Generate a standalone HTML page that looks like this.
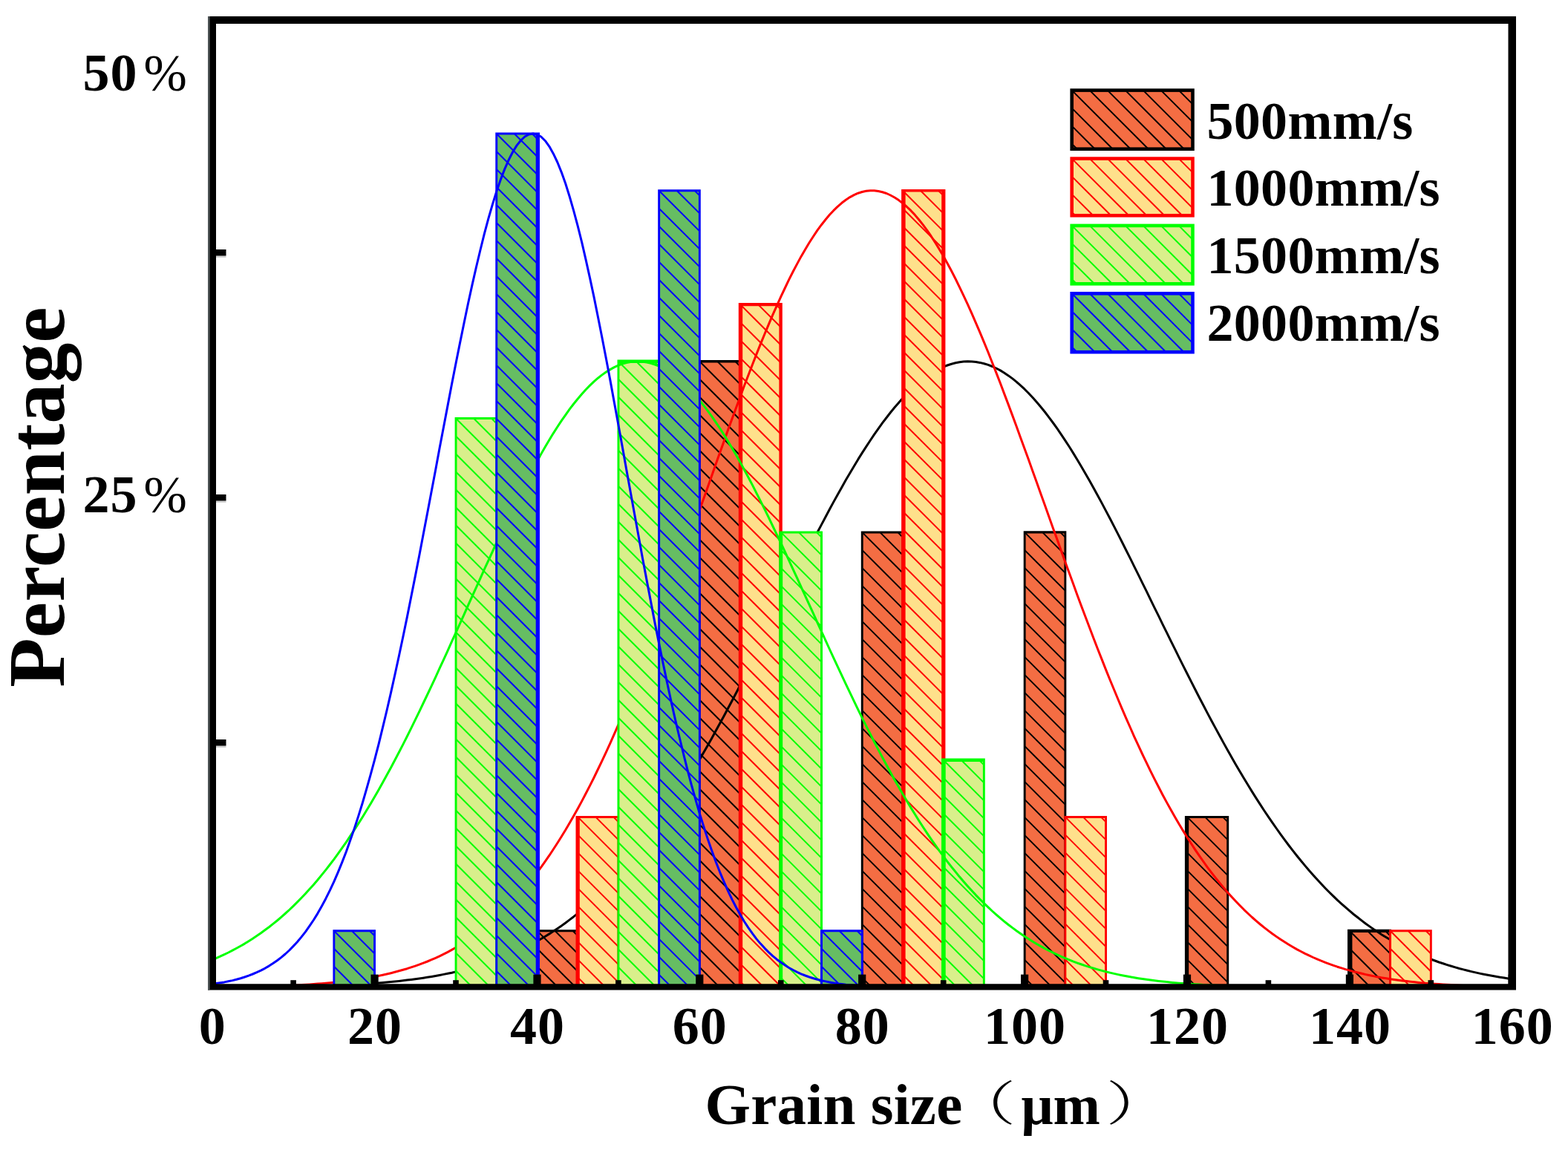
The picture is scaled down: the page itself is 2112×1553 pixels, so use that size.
<!DOCTYPE html>
<html lang="en">
<head>
<meta charset="utf-8">
<title>Grain size distribution</title>
<style>
html,body{margin:0;padding:0;background:#fff;}
body{width:2112px;height:1553px;overflow:hidden;}
svg{display:block;}
text{font-family:"Liberation Serif","Noto Serif CJK SC",serif;font-weight:bold;fill:#000;}
.tick{font-size:72px;text-anchor:middle;letter-spacing:1px;}
.leg{font-size:72px;letter-spacing:0.3px;}
.pct{font-weight:normal;}
.cjk{font-family:"Liberation Serif","Noto Serif CJK SC",serif;font-weight:300;}
</style>
</head>
<body>
<svg width="2112" height="1553" viewBox="0 0 2112 1553">
<rect x="0" y="0" width="2112" height="1553" fill="#fff"/>
<clipPath id="plot"><rect x="286" y="27" width="1750.5" height="1302"/></clipPath>
<g clip-path="url(#plot)">
<g fill="#F46D43" stroke="#000000">
<rect x="723.5" y="1253.8" width="54.7" height="76.7" stroke="none"/>
<path d="M723.5 1325.8l4.7 4.7M723.5 1301.8l28.7 28.7M723.5 1277.8l52.7 52.7M723.5 1253.8l54.7 54.7M747.5 1253.8l30.7 30.7M771.5 1253.8l6.7 6.7" fill="none" stroke-width="2.0"/>
<path d="M722 1252.3H779.6V1330.5H776.7V1255.2H724.9V1330.5H722Z" fill="#000000" stroke="none"/>
<rect x="942.3" y="486.8" width="54.7" height="843.7" stroke="none"/>
<path d="M942.3 1326.8l3.7 3.7M942.3 1302.8l27.7 27.7M942.3 1278.8l51.7 51.7M942.3 1254.8l54.7 54.7M942.3 1230.8l54.7 54.7M942.3 1206.8l54.7 54.7M942.3 1182.8l54.7 54.7M942.3 1158.8l54.7 54.7M942.3 1134.8l54.7 54.7M942.3 1110.8l54.7 54.7M942.3 1086.8l54.7 54.7M942.3 1062.8l54.7 54.7M942.3 1038.8l54.7 54.7M942.3 1014.8l54.7 54.7M942.3 990.8l54.7 54.7M942.3 966.8l54.7 54.7M942.3 942.8l54.7 54.7M942.3 918.8l54.7 54.7M942.3 894.8l54.7 54.7M942.3 870.8l54.7 54.7M942.3 846.8l54.7 54.7M942.3 822.8l54.7 54.7M942.3 798.8l54.7 54.7M942.3 774.8l54.7 54.7M942.3 750.8l54.7 54.7M942.3 726.8l54.7 54.7M942.3 702.8l54.7 54.7M942.3 678.8l54.7 54.7M942.3 654.8l54.7 54.7M942.3 630.8l54.7 54.7M942.3 606.8l54.7 54.7M942.3 582.8l54.7 54.7M942.3 558.8l54.7 54.7M942.3 534.8l54.7 54.7M942.3 510.8l54.7 54.7M942.3 486.8l54.7 54.7M966.3 486.8l30.7 30.7M990.3 486.8l6.7 6.7" fill="none" stroke-width="2.0"/>
<path d="M940.9 485.1H998.5V1330.5H995.6V488.5H943.8V1330.5H940.9Z" fill="#000000" stroke="none"/>
<rect x="1161.2" y="716.9" width="54.7" height="613.6" stroke="none"/>
<path d="M1161.2 1316.9l13.6 13.6M1161.2 1292.9l37.6 37.6M1161.2 1268.9l54.7 54.7M1161.2 1244.9l54.7 54.7M1161.2 1220.9l54.7 54.7M1161.2 1196.9l54.7 54.7M1161.2 1172.9l54.7 54.7M1161.2 1148.9l54.7 54.7M1161.2 1124.9l54.7 54.7M1161.2 1100.9l54.7 54.7M1161.2 1076.9l54.7 54.7M1161.2 1052.9l54.7 54.7M1161.2 1028.9l54.7 54.7M1161.2 1004.9l54.7 54.7M1161.2 980.9l54.7 54.7M1161.2 956.9l54.7 54.7M1161.2 932.9l54.7 54.7M1161.2 908.9l54.7 54.7M1161.2 884.9l54.7 54.7M1161.2 860.9l54.7 54.7M1161.2 836.9l54.7 54.7M1161.2 812.9l54.7 54.7M1161.2 788.9l54.7 54.7M1161.2 764.9l54.7 54.7M1161.2 740.9l54.7 54.7M1161.2 716.9l54.7 54.7M1185.2 716.9l30.7 30.7M1209.2 716.9l6.7 6.7" fill="none" stroke-width="2.0"/>
<path d="M1159.8 715.4H1217.4V1330.5H1214.5V718.4H1162.7V1330.5H1159.8Z" fill="#000000" stroke="none"/>
<rect x="1380.1" y="716.9" width="54.7" height="613.6" stroke="none"/>
<path d="M1380.1 1316.9l13.6 13.6M1380.1 1292.9l37.6 37.6M1380.1 1268.9l54.7 54.7M1380.1 1244.9l54.7 54.7M1380.1 1220.9l54.7 54.7M1380.1 1196.9l54.7 54.7M1380.1 1172.9l54.7 54.7M1380.1 1148.9l54.7 54.7M1380.1 1124.9l54.7 54.7M1380.1 1100.9l54.7 54.7M1380.1 1076.9l54.7 54.7M1380.1 1052.9l54.7 54.7M1380.1 1028.9l54.7 54.7M1380.1 1004.9l54.7 54.7M1380.1 980.9l54.7 54.7M1380.1 956.9l54.7 54.7M1380.1 932.9l54.7 54.7M1380.1 908.9l54.7 54.7M1380.1 884.9l54.7 54.7M1380.1 860.9l54.7 54.7M1380.1 836.9l54.7 54.7M1380.1 812.9l54.7 54.7M1380.1 788.9l54.7 54.7M1380.1 764.9l54.7 54.7M1380.1 740.9l54.7 54.7M1380.1 716.9l54.7 54.7M1404.1 716.9l30.7 30.7M1428.1 716.9l6.7 6.7" fill="none" stroke-width="2.0"/>
<path d="M1378.7 715.2H1436.3V1330.5H1433.4V718.6H1381.6V1330.5H1378.7Z" fill="#000000" stroke="none"/>
<rect x="1599" y="1100.4" width="54.7" height="230.1" stroke="none"/>
<path d="M1599.0 1316.4l14.1 14.1M1599.0 1292.4l38.1 38.1M1599.0 1268.4l54.7 54.7M1599.0 1244.4l54.7 54.7M1599.0 1220.4l54.7 54.7M1599.0 1196.4l54.7 54.7M1599.0 1172.4l54.7 54.7M1599.0 1148.4l54.7 54.7M1599.0 1124.4l54.7 54.7M1599.0 1100.4l54.7 54.7M1623.0 1100.4l30.7 30.7M1647.0 1100.4l6.7 6.7" fill="none" stroke-width="2.0"/>
<path d="M1595.9 1099H1655.2V1330.5H1652.2V1101.9H1601.2V1330.5H1595.9Z" fill="#000000" stroke="none"/>
<rect x="1817.9" y="1253.8" width="54.7" height="76.7" stroke="none"/>
<path d="M1817.9 1325.8l4.7 4.7M1817.9 1301.8l28.7 28.7M1817.9 1277.8l52.7 52.7M1817.9 1253.8l54.7 54.7M1841.9 1253.8l30.7 30.7M1865.9 1253.8l6.7 6.7" fill="none" stroke-width="2.0"/>
<path d="M1815 1251.7H1874V1330.5H1871.1V1255.9H1821.4V1330.5H1815Z" fill="#000000" stroke="none"/>
<path d="M263.8 1330.3L269.3 1330.3L274.8 1330.3L280.2 1330.2L285.7 1330.2L291.2 1330.2L296.6 1330.2L302.1 1330.1L307.6 1330.1L313.1 1330.1L318.5 1330.0L324.0 1330.0L329.5 1329.9L334.9 1329.9L340.4 1329.8L345.9 1329.8L351.4 1329.7L356.8 1329.7L362.3 1329.6L367.8 1329.5L373.3 1329.4L378.7 1329.3L384.2 1329.2L389.7 1329.1L395.1 1329.0L400.6 1328.9L406.1 1328.8L411.6 1328.7L417.0 1328.5L422.5 1328.4L428.0 1328.2L433.4 1328.0L438.9 1327.8L444.4 1327.6L449.9 1327.4L455.3 1327.2L460.8 1327.0L466.3 1326.7L471.7 1326.4L477.2 1326.1L482.7 1325.8L488.2 1325.5L493.6 1325.1L499.1 1324.8L504.6 1324.4L510.1 1323.9L515.5 1323.5L521.0 1323.0L526.5 1322.5L531.9 1321.9L537.4 1321.4L542.9 1320.8L548.4 1320.1L553.8 1319.4L559.3 1318.7L564.8 1318.0L570.2 1317.2L575.7 1316.3L581.2 1315.4L586.7 1314.5L592.1 1313.5L597.6 1312.4L603.1 1311.3L608.5 1310.2L614.0 1308.9L619.5 1307.7L625.0 1306.3L630.4 1304.9L635.9 1303.4L641.4 1301.8L646.9 1300.2L652.3 1298.5L657.8 1296.7L663.3 1294.8L668.7 1292.8L674.2 1290.8L679.7 1288.6L685.2 1286.4L690.6 1284.0L696.1 1281.6L701.6 1279.0L707.0 1276.3L712.5 1273.5L718.0 1270.7L723.5 1267.6L728.9 1264.5L734.4 1261.2L739.9 1257.9L745.3 1254.3L750.8 1250.7L756.3 1246.9L761.8 1243.0L767.2 1238.9L772.7 1234.7L778.2 1230.3L783.7 1225.8L789.1 1221.1L794.6 1216.3L800.1 1211.3L805.5 1206.2L811.0 1200.9L816.5 1195.4L822.0 1189.8L827.4 1184.0L832.9 1178.0L838.4 1171.9L843.8 1165.6L849.3 1159.1L854.8 1152.5L860.3 1145.6L865.7 1138.6L871.2 1131.5L876.7 1124.1L882.1 1116.6L887.6 1108.9L893.1 1101.0L898.6 1093.0L904.0 1084.8L909.5 1076.4L915.0 1067.9L920.5 1059.2L925.9 1050.4L931.4 1041.4L936.9 1032.2L942.3 1022.9L947.8 1013.5L953.3 1003.9L958.8 994.2L964.2 984.3L969.7 974.3L975.2 964.2L980.6 954.0L986.1 943.7L991.6 933.3L997.1 922.8L1002.5 912.2L1008.0 901.5L1013.5 890.8L1018.9 880.0L1024.4 869.1L1029.9 858.2L1035.4 847.3L1040.8 836.3L1046.3 825.4L1051.8 814.4L1057.3 803.4L1062.7 792.4L1068.2 781.5L1073.7 770.6L1079.1 759.7L1084.6 748.9L1090.1 738.2L1095.6 727.6L1101.0 717.0L1106.5 706.6L1112.0 696.2L1117.4 686.0L1122.9 675.9L1128.4 666.0L1133.9 656.2L1139.3 646.6L1144.8 637.2L1150.3 628.0L1155.7 618.9L1161.2 610.1L1166.7 601.6L1172.2 593.2L1177.6 585.1L1183.1 577.3L1188.6 569.7L1194.1 562.5L1199.5 555.5L1205.0 548.8L1210.5 542.4L1215.9 536.3L1221.4 530.5L1226.9 525.1L1232.4 520.0L1237.8 515.2L1243.3 510.8L1248.8 506.8L1254.2 503.1L1259.7 499.8L1265.2 496.8L1270.7 494.2L1276.1 492.0L1281.6 490.2L1287.1 488.8L1292.5 487.7L1298.0 487.1L1303.5 486.8L1309.0 486.9L1314.4 487.5L1319.9 488.4L1325.4 489.7L1330.9 491.4L1336.3 493.5L1341.8 496.0L1347.3 498.9L1352.7 502.2L1358.2 505.9L1363.7 509.9L1369.2 514.3L1374.6 519.1L1380.1 524.2L1385.6 529.7L1391.0 535.5L1396.5 541.7L1402.0 548.2L1407.5 555.0L1412.9 562.1L1418.4 569.5L1423.9 577.2L1429.3 585.1L1434.8 593.4L1440.3 601.8L1445.8 610.6L1451.2 619.6L1456.7 628.7L1462.2 638.2L1467.7 647.8L1473.1 657.5L1478.6 667.5L1484.1 677.6L1489.5 687.9L1495.0 698.3L1500.5 708.9L1506.0 719.6L1511.4 730.3L1516.9 741.2L1522.4 752.1L1527.8 763.1L1533.3 774.2L1538.8 785.3L1544.3 796.4L1549.7 807.6L1555.2 818.8L1560.7 829.9L1566.1 841.1L1571.6 852.2L1577.1 863.4L1582.6 874.4L1588.0 885.4L1593.5 896.4L1599.0 907.3L1604.5 918.1L1609.9 928.8L1615.4 939.5L1620.9 950.0L1626.3 960.4L1631.8 970.8L1637.3 980.9L1642.8 991.0L1648.2 1000.9L1653.7 1010.7L1659.2 1020.4L1664.6 1029.9L1670.1 1039.3L1675.6 1048.5L1681.1 1057.5L1686.5 1066.4L1692.0 1075.1L1697.5 1083.6L1702.9 1092.0L1708.4 1100.2L1713.9 1108.2L1719.4 1116.0L1724.8 1123.7L1730.3 1131.2L1735.8 1138.5L1741.3 1145.6L1746.7 1152.5L1752.2 1159.3L1757.7 1165.9L1763.1 1172.3L1768.6 1178.5L1774.1 1184.6L1779.6 1190.5L1785.0 1196.2L1790.5 1201.7L1796.0 1207.1L1801.4 1212.3L1806.9 1217.3L1812.4 1222.2L1817.9 1226.9L1823.3 1231.5L1828.8 1235.8L1834.3 1240.1L1839.7 1244.2L1845.2 1248.1L1850.7 1252.0L1856.2 1255.6L1861.6 1259.2L1867.1 1262.5L1872.6 1265.8L1878.1 1269.0L1883.5 1272.0L1889.0 1274.9L1894.5 1277.6L1899.9 1280.3L1905.4 1282.8L1910.9 1285.3L1916.4 1287.6L1921.8 1289.9L1927.3 1292.0L1932.8 1294.0L1938.2 1296.0L1943.7 1297.8L1949.2 1299.6L1954.7 1301.3L1960.1 1302.9L1965.6 1304.5L1971.1 1305.9L1976.5 1307.3L1982.0 1308.6L1987.5 1309.9L1993.0 1311.1L1998.4 1312.2L2003.9 1313.3L2009.4 1314.3L2014.9 1315.3L2020.3 1316.2L2025.8 1317.1L2031.3 1317.9L2036.7 1318.7L2042.2 1319.4L2047.7 1320.1L2053.2 1320.8L2058.6 1321.4" fill="none" stroke-width="3.0" stroke-linejoin="round"/>
</g>
<g fill="#FEE08B" stroke="#FF0000">
<rect x="778.2" y="1100.4" width="54.7" height="230.1" stroke="none"/>
<path d="M778.2 1316.4l14.1 14.1M778.2 1292.4l38.1 38.1M778.2 1268.4l54.7 54.7M778.2 1244.4l54.7 54.7M778.2 1220.4l54.7 54.7M778.2 1196.4l54.7 54.7M778.2 1172.4l54.7 54.7M778.2 1148.4l54.7 54.7M778.2 1124.4l54.7 54.7M778.2 1100.4l54.7 54.7M802.2 1100.4l30.7 30.7M826.2 1100.4l6.7 6.7" fill="none" stroke-width="2.0"/>
<path d="M775.5 1099H834.4V1330.5H831.5V1101.9H780.8V1330.5H775.5Z" fill="#FF0000" stroke="none"/>
<rect x="997.1" y="410.1" width="54.7" height="920.4" stroke="none"/>
<path d="M997.1 1322.1l8.4 8.4M997.1 1298.1l32.4 32.4M997.1 1274.1l54.7 54.7M997.1 1250.1l54.7 54.7M997.1 1226.1l54.7 54.7M997.1 1202.1l54.7 54.7M997.1 1178.1l54.7 54.7M997.1 1154.1l54.7 54.7M997.1 1130.1l54.7 54.7M997.1 1106.1l54.7 54.7M997.1 1082.1l54.7 54.7M997.1 1058.1l54.7 54.7M997.1 1034.1l54.7 54.7M997.1 1010.1l54.7 54.7M997.1 986.1l54.7 54.7M997.1 962.1l54.7 54.7M997.1 938.1l54.7 54.7M997.1 914.1l54.7 54.7M997.1 890.1l54.7 54.7M997.1 866.1l54.7 54.7M997.1 842.1l54.7 54.7M997.1 818.1l54.7 54.7M997.1 794.1l54.7 54.7M997.1 770.1l54.7 54.7M997.1 746.1l54.7 54.7M997.1 722.1l54.7 54.7M997.1 698.1l54.7 54.7M997.1 674.1l54.7 54.7M997.1 650.1l54.7 54.7M997.1 626.1l54.7 54.7M997.1 602.1l54.7 54.7M997.1 578.1l54.7 54.7M997.1 554.1l54.7 54.7M997.1 530.1l54.7 54.7M997.1 506.1l54.7 54.7M997.1 482.1l54.7 54.7M997.1 458.1l54.7 54.7M997.1 434.1l54.7 54.7M997.1 410.1l54.7 54.7M1021.1 410.1l30.7 30.7M1045.1 410.1l6.7 6.7" fill="none" stroke-width="2.0"/>
<path d="M994.8 407.9H1053.8V1330.5H1049.4V412.3H1000.2V1330.5H994.8Z" fill="#FF0000" stroke="none"/>
<rect x="1215.9" y="256.7" width="54.7" height="1073.8" stroke="none"/>
<path d="M1215.9 1312.7l17.8 17.8M1215.9 1288.7l41.8 41.8M1215.9 1264.7l54.7 54.7M1215.9 1240.7l54.7 54.7M1215.9 1216.7l54.7 54.7M1215.9 1192.7l54.7 54.7M1215.9 1168.7l54.7 54.7M1215.9 1144.7l54.7 54.7M1215.9 1120.7l54.7 54.7M1215.9 1096.7l54.7 54.7M1215.9 1072.7l54.7 54.7M1215.9 1048.7l54.7 54.7M1215.9 1024.7l54.7 54.7M1215.9 1000.7l54.7 54.7M1215.9 976.7l54.7 54.7M1215.9 952.7l54.7 54.7M1215.9 928.7l54.7 54.7M1215.9 904.7l54.7 54.7M1215.9 880.7l54.7 54.7M1215.9 856.7l54.7 54.7M1215.9 832.7l54.7 54.7M1215.9 808.7l54.7 54.7M1215.9 784.7l54.7 54.7M1215.9 760.7l54.7 54.7M1215.9 736.7l54.7 54.7M1215.9 712.7l54.7 54.7M1215.9 688.7l54.7 54.7M1215.9 664.7l54.7 54.7M1215.9 640.7l54.7 54.7M1215.9 616.7l54.7 54.7M1215.9 592.7l54.7 54.7M1215.9 568.7l54.7 54.7M1215.9 544.7l54.7 54.7M1215.9 520.7l54.7 54.7M1215.9 496.7l54.7 54.7M1215.9 472.7l54.7 54.7M1215.9 448.7l54.7 54.7M1215.9 424.7l54.7 54.7M1215.9 400.7l54.7 54.7M1215.9 376.7l54.7 54.7M1215.9 352.7l54.7 54.7M1215.9 328.7l54.7 54.7M1215.9 304.7l54.7 54.7M1215.9 280.7l54.7 54.7M1215.9 256.7l54.7 54.7M1239.9 256.7l30.7 30.7M1263.9 256.7l6.7 6.7" fill="none" stroke-width="2.0"/>
<path d="M1214.1 254.9H1273.4V1330.5H1268.2V258.5H1219.6V1330.5H1214.1Z" fill="#FF0000" stroke="none"/>
<rect x="1434.8" y="1100.4" width="54.7" height="230.1" stroke="none"/>
<path d="M1434.8 1316.4l14.1 14.1M1434.8 1292.4l38.1 38.1M1434.8 1268.4l54.7 54.7M1434.8 1244.4l54.7 54.7M1434.8 1220.4l54.7 54.7M1434.8 1196.4l54.7 54.7M1434.8 1172.4l54.7 54.7M1434.8 1148.4l54.7 54.7M1434.8 1124.4l54.7 54.7M1434.8 1100.4l54.7 54.7M1458.8 1100.4l30.7 30.7M1482.8 1100.4l6.7 6.7" fill="none" stroke-width="2.0"/>
<path d="M1433.4 1099H1491V1330.5H1488.1V1101.9H1436.3V1330.5H1433.4Z" fill="#FF0000" stroke="none"/>
<rect x="1872.6" y="1253.8" width="54.7" height="76.7" stroke="none"/>
<path d="M1872.6 1325.8l4.7 4.7M1872.6 1301.8l28.7 28.7M1872.6 1277.8l52.7 52.7M1872.6 1253.8l54.7 54.7M1896.6 1253.8l30.7 30.7M1920.6 1253.8l6.7 6.7" fill="none" stroke-width="2.0"/>
<path d="M1871.1 1252.3H1928.8V1330.5H1925.9V1255.2H1874V1330.5H1871.1Z" fill="#FF0000" stroke="none"/>
<path d="M263.8 1330.1L269.3 1330.1L274.8 1330.0L280.2 1330.0L285.7 1329.9L291.2 1329.9L296.6 1329.8L302.1 1329.7L307.6 1329.7L313.1 1329.6L318.5 1329.5L324.0 1329.4L329.5 1329.3L334.9 1329.2L340.4 1329.1L345.9 1328.9L351.4 1328.8L356.8 1328.6L362.3 1328.5L367.8 1328.3L373.3 1328.1L378.7 1327.9L384.2 1327.7L389.7 1327.4L395.1 1327.2L400.6 1326.9L406.1 1326.6L411.6 1326.3L417.0 1325.9L422.5 1325.5L428.0 1325.1L433.4 1324.7L438.9 1324.2L444.4 1323.7L449.9 1323.2L455.3 1322.6L460.8 1322.0L466.3 1321.4L471.7 1320.7L477.2 1319.9L482.7 1319.2L488.2 1318.3L493.6 1317.4L499.1 1316.5L504.6 1315.4L510.1 1314.4L515.5 1313.2L521.0 1312.0L526.5 1310.7L531.9 1309.3L537.4 1307.8L542.9 1306.3L548.4 1304.7L553.8 1302.9L559.3 1301.1L564.8 1299.2L570.2 1297.1L575.7 1295.0L581.2 1292.7L586.7 1290.3L592.1 1287.8L597.6 1285.1L603.1 1282.3L608.5 1279.4L614.0 1276.3L619.5 1273.1L625.0 1269.7L630.4 1266.1L635.9 1262.4L641.4 1258.5L646.9 1254.4L652.3 1250.1L657.8 1245.6L663.3 1241.0L668.7 1236.1L674.2 1231.0L679.7 1225.8L685.2 1220.3L690.6 1214.5L696.1 1208.6L701.6 1202.4L707.0 1196.0L712.5 1189.3L718.0 1182.4L723.5 1175.2L728.9 1167.8L734.4 1160.1L739.9 1152.2L745.3 1144.0L750.8 1135.5L756.3 1126.8L761.8 1117.8L767.2 1108.5L772.7 1099.0L778.2 1089.2L783.7 1079.1L789.1 1068.7L794.6 1058.1L800.1 1047.2L805.5 1036.0L811.0 1024.6L816.5 1012.9L822.0 1000.9L827.4 988.7L832.9 976.2L838.4 963.5L843.8 950.6L849.3 937.4L854.8 924.0L860.3 910.4L865.7 896.5L871.2 882.5L876.7 868.2L882.1 853.8L887.6 839.2L893.1 824.5L898.6 809.6L904.0 794.6L909.5 779.5L915.0 764.2L920.5 748.9L925.9 733.5L931.4 718.0L936.9 702.5L942.3 687.0L947.8 671.4L953.3 655.9L958.8 640.4L964.2 624.9L969.7 609.5L975.2 594.2L980.6 579.0L986.1 563.9L991.6 549.0L997.1 534.2L1002.5 519.6L1008.0 505.2L1013.5 491.0L1018.9 477.1L1024.4 463.4L1029.9 450.0L1035.4 436.9L1040.8 424.2L1046.3 411.8L1051.8 399.7L1057.3 388.0L1062.7 376.7L1068.2 365.8L1073.7 355.4L1079.1 345.4L1084.6 335.9L1090.1 326.8L1095.6 318.3L1101.0 310.2L1106.5 302.7L1112.0 295.7L1117.4 289.3L1122.9 283.4L1128.4 278.1L1133.9 273.3L1139.3 269.2L1144.8 265.6L1150.3 262.6L1155.7 260.2L1161.2 258.5L1166.7 257.3L1172.2 256.7L1177.6 256.8L1183.1 257.5L1188.6 258.7L1194.1 260.5L1199.5 263.0L1205.0 266.0L1210.5 269.6L1215.9 273.7L1221.4 278.5L1226.9 283.7L1232.4 289.6L1237.8 296.0L1243.3 302.9L1248.8 310.3L1254.2 318.2L1259.7 326.7L1265.2 335.6L1270.7 344.9L1276.1 354.8L1281.6 365.0L1287.1 375.7L1292.5 386.8L1298.0 398.3L1303.5 410.1L1309.0 422.3L1314.4 434.9L1319.9 447.7L1325.4 460.8L1330.9 474.3L1336.3 488.0L1341.8 501.9L1347.3 516.0L1352.7 530.4L1358.2 544.9L1363.7 559.6L1369.2 574.4L1374.6 589.4L1380.1 604.5L1385.6 619.6L1391.0 634.8L1396.5 650.1L1402.0 665.4L1407.5 680.7L1412.9 696.1L1418.4 711.4L1423.9 726.6L1429.3 741.8L1434.8 757.0L1440.3 772.1L1445.8 787.0L1451.2 801.9L1456.7 816.7L1462.2 831.3L1467.7 845.7L1473.1 860.0L1478.6 874.2L1484.1 888.1L1489.5 901.9L1495.0 915.5L1500.5 928.8L1506.0 942.0L1511.4 954.9L1516.9 967.6L1522.4 980.0L1527.8 992.3L1533.3 1004.2L1538.8 1016.0L1544.3 1027.4L1549.7 1038.6L1555.2 1049.6L1560.7 1060.3L1566.1 1070.7L1571.6 1080.9L1577.1 1090.8L1582.6 1100.4L1588.0 1109.8L1593.5 1118.9L1599.0 1127.7L1604.5 1136.3L1609.9 1144.6L1615.4 1152.7L1620.9 1160.5L1626.3 1168.1L1631.8 1175.4L1637.3 1182.4L1642.8 1189.2L1648.2 1195.8L1653.7 1202.2L1659.2 1208.3L1664.6 1214.1L1670.1 1219.8L1675.6 1225.3L1681.1 1230.5L1686.5 1235.5L1692.0 1240.3L1697.5 1245.0L1702.9 1249.4L1708.4 1253.6L1713.9 1257.7L1719.4 1261.6L1724.8 1265.3L1730.3 1268.8L1735.8 1272.2L1741.3 1275.5L1746.7 1278.6L1752.2 1281.5L1757.7 1284.3L1763.1 1286.9L1768.6 1289.5L1774.1 1291.9L1779.6 1294.2L1785.0 1296.3L1790.5 1298.4L1796.0 1300.3L1801.4 1302.2L1806.9 1303.9L1812.4 1305.6L1817.9 1307.1L1823.3 1308.6L1828.8 1310.0L1834.3 1311.3L1839.7 1312.6L1845.2 1313.8L1850.7 1314.9L1856.2 1315.9L1861.6 1316.9L1867.1 1317.8L1872.6 1318.7L1878.1 1319.5L1883.5 1320.2L1889.0 1320.9L1894.5 1321.6L1899.9 1322.2L1905.4 1322.8L1910.9 1323.4L1916.4 1323.9L1921.8 1324.4L1927.3 1324.8L1932.8 1325.2L1938.2 1325.6L1943.7 1326.0L1949.2 1326.3L1954.7 1326.6L1960.1 1326.9L1965.6 1327.2L1971.1 1327.5L1976.5 1327.7L1982.0 1327.9L1987.5 1328.1L1993.0 1328.3L1998.4 1328.5L2003.9 1328.6L2009.4 1328.8L2014.9 1328.9L2020.3 1329.1L2025.8 1329.2L2031.3 1329.3L2036.7 1329.4L2042.2 1329.5L2047.7 1329.6L2053.2 1329.6L2058.6 1329.7" fill="none" stroke-width="3.0" stroke-linejoin="round"/>
</g>
<g fill="#D9EF8B" stroke="#00FF00">
<rect x="614" y="563.5" width="54.7" height="767" stroke="none"/>
<path d="M614.0 1307.5l23.0 23.0M614.0 1283.5l47.0 47.0M614.0 1259.5l54.7 54.7M614.0 1235.5l54.7 54.7M614.0 1211.5l54.7 54.7M614.0 1187.5l54.7 54.7M614.0 1163.5l54.7 54.7M614.0 1139.5l54.7 54.7M614.0 1115.5l54.7 54.7M614.0 1091.5l54.7 54.7M614.0 1067.5l54.7 54.7M614.0 1043.5l54.7 54.7M614.0 1019.5l54.7 54.7M614.0 995.5l54.7 54.7M614.0 971.5l54.7 54.7M614.0 947.5l54.7 54.7M614.0 923.5l54.7 54.7M614.0 899.5l54.7 54.7M614.0 875.5l54.7 54.7M614.0 851.5l54.7 54.7M614.0 827.5l54.7 54.7M614.0 803.5l54.7 54.7M614.0 779.5l54.7 54.7M614.0 755.5l54.7 54.7M614.0 731.5l54.7 54.7M614.0 707.5l54.7 54.7M614.0 683.5l54.7 54.7M614.0 659.5l54.7 54.7M614.0 635.5l54.7 54.7M614.0 611.5l54.7 54.7M614.0 587.5l54.7 54.7M614.0 563.5l54.7 54.7M638.0 563.5l30.7 30.7M662.0 563.5l6.7 6.7" fill="none" stroke-width="2.0"/>
<path d="M612.6 562H670.2V1330.5H667.3V565H615.5V1330.5H612.6Z" fill="#00FF00" stroke="none"/>
<rect x="832.9" y="486.8" width="54.7" height="843.7" stroke="none"/>
<path d="M832.9 1326.8l3.7 3.7M832.9 1302.8l27.7 27.7M832.9 1278.8l51.7 51.7M832.9 1254.8l54.7 54.7M832.9 1230.8l54.7 54.7M832.9 1206.8l54.7 54.7M832.9 1182.8l54.7 54.7M832.9 1158.8l54.7 54.7M832.9 1134.8l54.7 54.7M832.9 1110.8l54.7 54.7M832.9 1086.8l54.7 54.7M832.9 1062.8l54.7 54.7M832.9 1038.8l54.7 54.7M832.9 1014.8l54.7 54.7M832.9 990.8l54.7 54.7M832.9 966.8l54.7 54.7M832.9 942.8l54.7 54.7M832.9 918.8l54.7 54.7M832.9 894.8l54.7 54.7M832.9 870.8l54.7 54.7M832.9 846.8l54.7 54.7M832.9 822.8l54.7 54.7M832.9 798.8l54.7 54.7M832.9 774.8l54.7 54.7M832.9 750.8l54.7 54.7M832.9 726.8l54.7 54.7M832.9 702.8l54.7 54.7M832.9 678.8l54.7 54.7M832.9 654.8l54.7 54.7M832.9 630.8l54.7 54.7M832.9 606.8l54.7 54.7M832.9 582.8l54.7 54.7M832.9 558.8l54.7 54.7M832.9 534.8l54.7 54.7M832.9 510.8l54.7 54.7M832.9 486.8l54.7 54.7M856.9 486.8l30.7 30.7M880.9 486.8l6.7 6.7" fill="none" stroke-width="2.0"/>
<path d="M831.5 484.5H889.1V1330.5H886.2V489.1H834.4V1330.5H831.5Z" fill="#00FF00" stroke="none"/>
<rect x="1051.8" y="716.9" width="54.7" height="613.6" stroke="none"/>
<path d="M1051.8 1316.9l13.6 13.6M1051.8 1292.9l37.6 37.6M1051.8 1268.9l54.7 54.7M1051.8 1244.9l54.7 54.7M1051.8 1220.9l54.7 54.7M1051.8 1196.9l54.7 54.7M1051.8 1172.9l54.7 54.7M1051.8 1148.9l54.7 54.7M1051.8 1124.9l54.7 54.7M1051.8 1100.9l54.7 54.7M1051.8 1076.9l54.7 54.7M1051.8 1052.9l54.7 54.7M1051.8 1028.9l54.7 54.7M1051.8 1004.9l54.7 54.7M1051.8 980.9l54.7 54.7M1051.8 956.9l54.7 54.7M1051.8 932.9l54.7 54.7M1051.8 908.9l54.7 54.7M1051.8 884.9l54.7 54.7M1051.8 860.9l54.7 54.7M1051.8 836.9l54.7 54.7M1051.8 812.9l54.7 54.7M1051.8 788.9l54.7 54.7M1051.8 764.9l54.7 54.7M1051.8 740.9l54.7 54.7M1051.8 716.9l54.7 54.7M1075.8 716.9l30.7 30.7M1099.8 716.9l6.7 6.7" fill="none" stroke-width="2.0"/>
<path d="M1049.2 715.4H1108V1330.5H1105V718.4H1054.2V1330.5H1049.2Z" fill="#00FF00" stroke="none"/>
<rect x="1270.7" y="1023.7" width="54.7" height="306.8" stroke="none"/>
<path d="M1270.7 1311.7l18.8 18.8M1270.7 1287.7l42.8 42.8M1270.7 1263.7l54.7 54.7M1270.7 1239.7l54.7 54.7M1270.7 1215.7l54.7 54.7M1270.7 1191.7l54.7 54.7M1270.7 1167.7l54.7 54.7M1270.7 1143.7l54.7 54.7M1270.7 1119.7l54.7 54.7M1270.7 1095.7l54.7 54.7M1270.7 1071.7l54.7 54.7M1270.7 1047.7l54.7 54.7M1270.7 1023.7l54.7 54.7M1294.7 1023.7l30.7 30.7M1318.7 1023.7l6.7 6.7" fill="none" stroke-width="2.0"/>
<path d="M1268 1021.5H1326.8V1330.5H1323.9V1025.9H1273.7V1330.5H1268Z" fill="#00FF00" stroke="none"/>
<path d="M263.8 1300.9L269.3 1299.1L274.8 1297.1L280.2 1295.0L285.7 1292.9L291.2 1290.6L296.6 1288.2L302.1 1285.6L307.6 1283.0L313.1 1280.2L318.5 1277.3L324.0 1274.2L329.5 1271.1L334.9 1267.7L340.4 1264.2L345.9 1260.6L351.4 1256.8L356.8 1252.8L362.3 1248.7L367.8 1244.4L373.3 1240.0L378.7 1235.3L384.2 1230.5L389.7 1225.5L395.1 1220.3L400.6 1214.9L406.1 1209.3L411.6 1203.5L417.0 1197.5L422.5 1191.4L428.0 1185.0L433.4 1178.4L438.9 1171.6L444.4 1164.5L449.9 1157.3L455.3 1149.9L460.8 1142.2L466.3 1134.3L471.7 1126.2L477.2 1117.9L482.7 1109.4L488.2 1100.7L493.6 1091.8L499.1 1082.7L504.6 1073.3L510.1 1063.8L515.5 1054.0L521.0 1044.1L526.5 1034.0L531.9 1023.7L537.4 1013.2L542.9 1002.6L548.4 991.8L553.8 980.8L559.3 969.7L564.8 958.4L570.2 947.0L575.7 935.5L581.2 923.8L586.7 912.1L592.1 900.2L597.6 888.3L603.1 876.3L608.5 864.2L614.0 852.1L619.5 840.0L625.0 827.8L630.4 815.6L635.9 803.4L641.4 791.3L646.9 779.1L652.3 767.0L657.8 755.0L663.3 743.1L668.7 731.2L674.2 719.5L679.7 707.9L685.2 696.4L690.6 685.0L696.1 673.9L701.6 662.9L707.0 652.1L712.5 641.6L718.0 631.3L723.5 621.2L728.9 611.4L734.4 601.8L739.9 592.6L745.3 583.6L750.8 575.0L756.3 566.7L761.8 558.8L767.2 551.2L772.7 544.0L778.2 537.2L783.7 530.8L789.1 524.7L794.6 519.1L800.1 513.9L805.5 509.2L811.0 504.9L816.5 501.0L822.0 497.6L827.4 494.6L832.9 492.2L838.4 490.1L843.8 488.6L849.3 487.5L854.8 486.9L860.3 486.8L865.7 487.2L871.2 488.0L876.7 489.3L882.1 491.0L887.6 493.2L893.1 495.9L898.6 499.0L904.0 502.5L909.5 506.5L915.0 510.9L920.5 515.8L925.9 521.0L931.4 526.7L936.9 532.8L942.3 539.2L947.8 546.1L953.3 553.3L958.8 560.9L964.2 568.8L969.7 577.0L975.2 585.6L980.6 594.5L986.1 603.6L991.6 613.1L997.1 622.8L1002.5 632.8L1008.0 643.0L1013.5 653.4L1018.9 664.1L1024.4 674.9L1029.9 685.9L1035.4 697.1L1040.8 708.5L1046.3 719.9L1051.8 731.5L1057.3 743.2L1062.7 755.0L1068.2 766.8L1073.7 778.7L1079.1 790.7L1084.6 802.7L1090.1 814.7L1095.6 826.7L1101.0 838.7L1106.5 850.7L1112.0 862.6L1117.4 874.5L1122.9 886.4L1128.4 898.1L1133.9 909.8L1139.3 921.4L1144.8 932.9L1150.3 944.3L1155.7 955.6L1161.2 966.8L1166.7 977.8L1172.2 988.6L1177.6 999.3L1183.1 1009.9L1188.6 1020.3L1194.1 1030.5L1199.5 1040.5L1205.0 1050.4L1210.5 1060.1L1215.9 1069.5L1221.4 1078.8L1226.9 1087.9L1232.4 1096.8L1237.8 1105.5L1243.3 1114.0L1248.8 1122.3L1254.2 1130.3L1259.7 1138.2L1265.2 1145.9L1270.7 1153.3L1276.1 1160.6L1281.6 1167.6L1287.1 1174.4L1292.5 1181.1L1298.0 1187.5L1303.5 1193.7L1309.0 1199.7L1314.4 1205.6L1319.9 1211.2L1325.4 1216.6L1330.9 1221.9L1336.3 1227.0L1341.8 1231.9L1347.3 1236.6L1352.7 1241.1L1358.2 1245.5L1363.7 1249.6L1369.2 1253.7L1374.6 1257.5L1380.1 1261.3L1385.6 1264.8L1391.0 1268.2L1396.5 1271.5L1402.0 1274.6L1407.5 1277.6L1412.9 1280.5L1418.4 1283.2L1423.9 1285.8L1429.3 1288.3L1434.8 1290.6L1440.3 1292.9L1445.8 1295.1L1451.2 1297.1L1456.7 1299.0L1462.2 1300.9L1467.7 1302.6L1473.1 1304.3L1478.6 1305.9L1484.1 1307.4L1489.5 1308.8L1495.0 1310.1L1500.5 1311.4L1506.0 1312.6L1511.4 1313.7L1516.9 1314.8L1522.4 1315.8L1527.8 1316.8L1533.3 1317.7L1538.8 1318.5L1544.3 1319.3L1549.7 1320.1L1555.2 1320.8L1560.7 1321.4L1566.1 1322.0L1571.6 1322.6L1577.1 1323.2L1582.6 1323.7L1588.0 1324.2L1593.5 1324.6L1599.0 1325.0L1604.5 1325.4L1609.9 1325.8L1615.4 1326.1L1620.9 1326.5L1626.3 1326.8L1631.8 1327.0L1637.3 1327.3L1642.8 1327.5L1648.2 1327.8L1653.7 1328.0L1659.2 1328.2L1664.6 1328.4L1670.1 1328.5L1675.6 1328.7L1681.1 1328.8L1686.5 1329.0L1692.0 1329.1L1697.5 1329.2L1702.9 1329.3L1708.4 1329.4L1713.9 1329.5L1719.4 1329.6L1724.8 1329.7L1730.3 1329.7L1735.8 1329.8L1741.3 1329.8L1746.7 1329.9L1752.2 1330.0L1757.7 1330.0L1763.1 1330.0L1768.6 1330.1L1774.1 1330.1L1779.6 1330.2L1785.0 1330.2L1790.5 1330.2L1796.0 1330.2L1801.4 1330.3L1806.9 1330.3L1812.4 1330.3L1817.9 1330.3L1823.3 1330.3L1828.8 1330.4L1834.3 1330.4L1839.7 1330.4L1845.2 1330.4L1850.7 1330.4L1856.2 1330.4L1861.6 1330.4L1867.1 1330.4L1872.6 1330.4L1878.1 1330.4L1883.5 1330.4L1889.0 1330.5L1894.5 1330.5L1899.9 1330.5L1905.4 1330.5L1910.9 1330.5L1916.4 1330.5L1921.8 1330.5L1927.3 1330.5L1932.8 1330.5L1938.2 1330.5L1943.7 1330.5L1949.2 1330.5L1954.7 1330.5L1960.1 1330.5L1965.6 1330.5L1971.1 1330.5L1976.5 1330.5L1982.0 1330.5L1987.5 1330.5L1993.0 1330.5L1998.4 1330.5L2003.9 1330.5L2009.4 1330.5L2014.9 1330.5L2020.3 1330.5L2025.8 1330.5L2031.3 1330.5L2036.7 1330.5L2042.2 1330.5L2047.7 1330.5L2053.2 1330.5L2058.6 1330.5" fill="none" stroke-width="3.0" stroke-linejoin="round"/>
</g>
<g fill="#66BD63" stroke="#0000FF">
<rect x="449.9" y="1253.8" width="54.7" height="76.7" stroke="none"/>
<path d="M449.9 1325.8l4.7 4.7M449.9 1301.8l28.7 28.7M449.9 1277.8l52.7 52.7M449.9 1253.8l54.7 54.7M473.9 1253.8l30.7 30.7M497.9 1253.8l6.7 6.7" fill="none" stroke-width="2.0"/>
<path d="M448.4 1252.3H506V1330.5H503.1V1255.2H451.3V1330.5H448.4Z" fill="#0000FF" stroke="none"/>
<rect x="668.7" y="180" width="54.7" height="1150.5" stroke="none"/>
<path d="M668.7 1308.0l22.5 22.5M668.7 1284.0l46.5 46.5M668.7 1260.0l54.7 54.7M668.7 1236.0l54.7 54.7M668.7 1212.0l54.7 54.7M668.7 1188.0l54.7 54.7M668.7 1164.0l54.7 54.7M668.7 1140.0l54.7 54.7M668.7 1116.0l54.7 54.7M668.7 1092.0l54.7 54.7M668.7 1068.0l54.7 54.7M668.7 1044.0l54.7 54.7M668.7 1020.0l54.7 54.7M668.7 996.0l54.7 54.7M668.7 972.0l54.7 54.7M668.7 948.0l54.7 54.7M668.7 924.0l54.7 54.7M668.7 900.0l54.7 54.7M668.7 876.0l54.7 54.7M668.7 852.0l54.7 54.7M668.7 828.0l54.7 54.7M668.7 804.0l54.7 54.7M668.7 780.0l54.7 54.7M668.7 756.0l54.7 54.7M668.7 732.0l54.7 54.7M668.7 708.0l54.7 54.7M668.7 684.0l54.7 54.7M668.7 660.0l54.7 54.7M668.7 636.0l54.7 54.7M668.7 612.0l54.7 54.7M668.7 588.0l54.7 54.7M668.7 564.0l54.7 54.7M668.7 540.0l54.7 54.7M668.7 516.0l54.7 54.7M668.7 492.0l54.7 54.7M668.7 468.0l54.7 54.7M668.7 444.0l54.7 54.7M668.7 420.0l54.7 54.7M668.7 396.0l54.7 54.7M668.7 372.0l54.7 54.7M668.7 348.0l54.7 54.7M668.7 324.0l54.7 54.7M668.7 300.0l54.7 54.7M668.7 276.0l54.7 54.7M668.7 252.0l54.7 54.7M668.7 228.0l54.7 54.7M668.7 204.0l54.7 54.7M668.7 180.0l54.7 54.7M692.7 180.0l30.7 30.7M716.7 180.0l6.7 6.7" fill="none" stroke-width="2.0"/>
<path d="M667.3 178.6H727V1330.5H721.7V181.4H670.2V1330.5H667.3Z" fill="#0000FF" stroke="none"/>
<rect x="887.6" y="256.7" width="54.7" height="1073.8" stroke="none"/>
<path d="M887.6 1312.7l17.8 17.8M887.6 1288.7l41.8 41.8M887.6 1264.7l54.7 54.7M887.6 1240.7l54.7 54.7M887.6 1216.7l54.7 54.7M887.6 1192.7l54.7 54.7M887.6 1168.7l54.7 54.7M887.6 1144.7l54.7 54.7M887.6 1120.7l54.7 54.7M887.6 1096.7l54.7 54.7M887.6 1072.7l54.7 54.7M887.6 1048.7l54.7 54.7M887.6 1024.7l54.7 54.7M887.6 1000.7l54.7 54.7M887.6 976.7l54.7 54.7M887.6 952.7l54.7 54.7M887.6 928.7l54.7 54.7M887.6 904.7l54.7 54.7M887.6 880.7l54.7 54.7M887.6 856.7l54.7 54.7M887.6 832.7l54.7 54.7M887.6 808.7l54.7 54.7M887.6 784.7l54.7 54.7M887.6 760.7l54.7 54.7M887.6 736.7l54.7 54.7M887.6 712.7l54.7 54.7M887.6 688.7l54.7 54.7M887.6 664.7l54.7 54.7M887.6 640.7l54.7 54.7M887.6 616.7l54.7 54.7M887.6 592.7l54.7 54.7M887.6 568.7l54.7 54.7M887.6 544.7l54.7 54.7M887.6 520.7l54.7 54.7M887.6 496.7l54.7 54.7M887.6 472.7l54.7 54.7M887.6 448.7l54.7 54.7M887.6 424.7l54.7 54.7M887.6 400.7l54.7 54.7M887.6 376.7l54.7 54.7M887.6 352.7l54.7 54.7M887.6 328.7l54.7 54.7M887.6 304.7l54.7 54.7M887.6 280.7l54.7 54.7M887.6 256.7l54.7 54.7M911.6 256.7l30.7 30.7M935.6 256.7l6.7 6.7" fill="none" stroke-width="2.0"/>
<path d="M886.2 255.3H943.8V1330.5H940.9V258.2H889.1V1330.5H886.2Z" fill="#0000FF" stroke="none"/>
<rect x="1106.5" y="1253.8" width="54.7" height="76.7" stroke="none"/>
<path d="M1106.5 1325.8l4.7 4.7M1106.5 1301.8l28.7 28.7M1106.5 1277.8l52.7 52.7M1106.5 1253.8l54.7 54.7M1130.5 1253.8l30.7 30.7M1154.5 1253.8l6.7 6.7" fill="none" stroke-width="2.0"/>
<path d="M1105 1252.3H1162.7V1330.5H1159.8V1255.2H1108V1330.5H1105Z" fill="#0000FF" stroke="none"/>
<path d="M263.8 1327.6L269.3 1327.1L274.8 1326.6L280.2 1326.1L285.7 1325.4L291.2 1324.6L296.6 1323.8L302.1 1322.9L307.6 1321.8L313.1 1320.6L318.5 1319.2L324.0 1317.7L329.5 1316.0L334.9 1314.1L340.4 1312.0L345.9 1309.7L351.4 1307.1L356.8 1304.3L362.3 1301.1L367.8 1297.6L373.3 1293.8L378.7 1289.6L384.2 1285.0L389.7 1280.0L395.1 1274.4L400.6 1268.5L406.1 1261.9L411.6 1254.9L417.0 1247.2L422.5 1239.0L428.0 1230.1L433.4 1220.5L438.9 1210.2L444.4 1199.2L449.9 1187.4L455.3 1174.8L460.8 1161.4L466.3 1147.2L471.7 1132.1L477.2 1116.2L482.7 1099.4L488.2 1081.7L493.6 1063.1L499.1 1043.6L504.6 1023.3L510.1 1002.0L515.5 979.9L521.0 957.0L526.5 933.2L531.9 908.7L537.4 883.5L542.9 857.5L548.4 830.9L553.8 803.8L559.3 776.1L564.8 748.0L570.2 719.5L575.7 690.7L581.2 661.7L586.7 632.7L592.1 603.6L597.6 574.7L603.1 545.9L608.5 517.5L614.0 489.5L619.5 462.1L625.0 435.3L630.4 409.3L635.9 384.1L641.4 360.0L646.9 337.0L652.3 315.2L657.8 294.7L663.3 275.7L668.7 258.1L674.2 242.2L679.7 227.9L685.2 215.4L690.6 204.7L696.1 195.9L701.6 189.0L707.0 184.0L712.5 181.0L718.0 180.0L723.5 181.1L728.9 184.3L734.4 189.7L739.9 197.3L745.3 206.9L750.8 218.5L756.3 232.1L761.8 247.5L767.2 264.8L772.7 283.8L778.2 304.3L783.7 326.4L789.1 349.8L794.6 374.6L800.1 400.4L805.5 427.3L811.0 455.0L816.5 483.5L822.0 512.6L827.4 542.2L832.9 572.2L838.4 602.4L843.8 632.7L849.3 663.0L854.8 693.2L860.3 723.2L865.7 752.9L871.2 782.1L876.7 810.9L882.1 839.1L887.6 866.6L893.1 893.4L898.6 919.5L904.0 944.7L909.5 969.1L915.0 992.5L920.5 1015.0L925.9 1036.6L931.4 1057.3L936.9 1076.9L942.3 1095.6L947.8 1113.3L953.3 1130.1L958.8 1145.9L964.2 1160.8L969.7 1174.8L975.2 1187.9L980.6 1200.1L986.1 1211.6L991.6 1222.2L997.1 1232.1L1002.5 1241.2L1008.0 1249.6L1013.5 1257.4L1018.9 1264.6L1024.4 1271.1L1029.9 1277.1L1035.4 1282.6L1040.8 1287.6L1046.3 1292.2L1051.8 1296.3L1057.3 1300.1L1062.7 1303.5L1068.2 1306.5L1073.7 1309.3L1079.1 1311.8L1084.6 1314.0L1090.1 1316.0L1095.6 1317.7L1101.0 1319.3L1106.5 1320.7L1112.0 1321.9L1117.4 1323.0L1122.9 1324.0L1128.4 1324.9L1133.9 1325.6L1139.3 1326.3L1144.8 1326.8L1150.3 1327.3L1155.7 1327.8L1161.2 1328.2L1166.7 1328.5L1172.2 1328.8L1177.6 1329.0L1183.1 1329.3L1188.6 1329.4L1194.1 1329.6L1199.5 1329.7L1205.0 1329.9L1210.5 1330.0L1215.9 1330.0L1221.4 1330.1L1226.9 1330.2L1232.4 1330.2L1237.8 1330.3L1243.3 1330.3L1248.8 1330.3L1254.2 1330.4L1259.7 1330.4L1265.2 1330.4L1270.7 1330.4L1276.1 1330.4L1281.6 1330.4L1287.1 1330.5L1292.5 1330.5L1298.0 1330.5L1303.5 1330.5L1309.0 1330.5L1314.4 1330.5L1319.9 1330.5L1325.4 1330.5L1330.9 1330.5L1336.3 1330.5L1341.8 1330.5L1347.3 1330.5L1352.7 1330.5L1358.2 1330.5L1363.7 1330.5L1369.2 1330.5L1374.6 1330.5L1380.1 1330.5L1385.6 1330.5L1391.0 1330.5L1396.5 1330.5L1402.0 1330.5L1407.5 1330.5L1412.9 1330.5L1418.4 1330.5L1423.9 1330.5L1429.3 1330.5L1434.8 1330.5L1440.3 1330.5L1445.8 1330.5L1451.2 1330.5L1456.7 1330.5L1462.2 1330.5L1467.7 1330.5L1473.1 1330.5L1478.6 1330.5L1484.1 1330.5L1489.5 1330.5L1495.0 1330.5L1500.5 1330.5L1506.0 1330.5L1511.4 1330.5L1516.9 1330.5L1522.4 1330.5L1527.8 1330.5L1533.3 1330.5L1538.8 1330.5L1544.3 1330.5L1549.7 1330.5L1555.2 1330.5L1560.7 1330.5L1566.1 1330.5L1571.6 1330.5L1577.1 1330.5L1582.6 1330.5L1588.0 1330.5L1593.5 1330.5L1599.0 1330.5L1604.5 1330.5L1609.9 1330.5L1615.4 1330.5L1620.9 1330.5L1626.3 1330.5L1631.8 1330.5L1637.3 1330.5L1642.8 1330.5L1648.2 1330.5L1653.7 1330.5L1659.2 1330.5L1664.6 1330.5L1670.1 1330.5L1675.6 1330.5L1681.1 1330.5L1686.5 1330.5L1692.0 1330.5L1697.5 1330.5L1702.9 1330.5L1708.4 1330.5L1713.9 1330.5L1719.4 1330.5L1724.8 1330.5L1730.3 1330.5L1735.8 1330.5L1741.3 1330.5L1746.7 1330.5L1752.2 1330.5L1757.7 1330.5L1763.1 1330.5L1768.6 1330.5L1774.1 1330.5L1779.6 1330.5L1785.0 1330.5L1790.5 1330.5L1796.0 1330.5L1801.4 1330.5L1806.9 1330.5L1812.4 1330.5L1817.9 1330.5L1823.3 1330.5L1828.8 1330.5L1834.3 1330.5L1839.7 1330.5L1845.2 1330.5L1850.7 1330.5L1856.2 1330.5L1861.6 1330.5L1867.1 1330.5L1872.6 1330.5L1878.1 1330.5L1883.5 1330.5L1889.0 1330.5L1894.5 1330.5L1899.9 1330.5L1905.4 1330.5L1910.9 1330.5L1916.4 1330.5L1921.8 1330.5L1927.3 1330.5L1932.8 1330.5L1938.2 1330.5L1943.7 1330.5L1949.2 1330.5L1954.7 1330.5L1960.1 1330.5L1965.6 1330.5L1971.1 1330.5L1976.5 1330.5L1982.0 1330.5L1987.5 1330.5L1993.0 1330.5L1998.4 1330.5L2003.9 1330.5L2009.4 1330.5L2014.9 1330.5L2020.3 1330.5L2025.8 1330.5L2031.3 1330.5L2036.7 1330.5L2042.2 1330.5L2047.7 1330.5L2053.2 1330.5L2058.6 1330.5" fill="none" stroke-width="3.0" stroke-linejoin="round"/>
</g>
</g>
<g fill="#000">
<rect x="280.6" y="1312.6" width="10.2" height="15"/>
<rect x="391.3" y="1320.2" width="7.6" height="8"/>
<rect x="499.5" y="1312.6" width="10.2" height="15"/>
<rect x="610.2" y="1320.2" width="7.6" height="8"/>
<rect x="718.4" y="1312.6" width="10.2" height="15"/>
<rect x="829.1" y="1320.2" width="7.6" height="8"/>
<rect x="937.2" y="1312.6" width="10.2" height="15"/>
<rect x="1048" y="1320.2" width="7.6" height="8"/>
<rect x="1156.1" y="1312.6" width="10.2" height="15"/>
<rect x="1266.9" y="1320.2" width="7.6" height="8"/>
<rect x="1375" y="1312.6" width="10.2" height="15"/>
<rect x="1485.7" y="1320.2" width="7.6" height="8"/>
<rect x="1593.9" y="1312.6" width="10.2" height="15"/>
<rect x="1704.6" y="1320.2" width="7.6" height="8"/>
<rect x="1812.8" y="1312.6" width="10.2" height="15"/>
<rect x="1923.5" y="1320.2" width="7.6" height="8"/>
<rect x="2031.6" y="1312.6" width="10.2" height="15"/>
<rect x="289" y="336" width="15.5" height="8.6"/>
<rect x="291" y="344.9" width="13.5" height="2" fill="#cfcfcf"/>
<rect x="289" y="666" width="15.5" height="8.6"/>
<rect x="291" y="674.9" width="13.5" height="2" fill="#cfcfcf"/>
<rect x="289" y="996" width="15.5" height="8.6"/>
<rect x="291" y="1004.9" width="13.5" height="2" fill="#cfcfcf"/>
</g>
<path d="M280 22H2042V1333.5H280Z M291 32V1325.3H2031.5V32Z" fill="#000" fill-rule="evenodd"/>
<rect x="280" y="22" width="2.6" height="1311.5" fill="#4d5355"/>
<text class="tick" x="286.2" y="1406">0</text>
<text class="tick" x="505.1" y="1406">20</text>
<text class="tick" x="724" y="1406">40</text>
<text class="tick" x="942.8" y="1406">60</text>
<text class="tick" x="1161.7" y="1406">80</text>
<text class="tick" x="1380.6" y="1406">100</text>
<text class="tick" x="1599.5" y="1406">120</text>
<text class="tick" x="1818.4" y="1406">140</text>
<text class="tick" x="2037.2" y="1406">160</text>
<text x="111.5" y="121.8" font-size="72" letter-spacing="1">50<tspan class="pct" dx="8" font-size="70">%</tspan></text>
<text x="111.5" y="690.2" font-size="72" letter-spacing="1">25<tspan class="pct" dx="8" font-size="70">%</tspan></text>
<text x="949.5" y="1514" font-size="79" letter-spacing="0.25">Grain size</text>
<text class="cjk" transform="translate(1325.5 1509) scale(1.36 1)" x="-32.5" y="0" font-size="64">（</text>
<text x="1375.5" y="1514" font-size="76">μm</text>
<text class="cjk" transform="translate(1493.7 1509) scale(1.36 1)" x="-3" y="0" font-size="64">）</text>
<text transform="translate(86 669.5) rotate(-90)" text-anchor="middle" font-size="109">Percentage</text>
<g fill="#F46D43" stroke="#000000">
<rect x="1443.7" y="121.6" width="162.8" height="79.1" stroke-width="4.6"/>
<path d="M1443.7 193.6l7.1 7.1M1443.7 169.6l31.1 31.1M1443.7 145.6l55.1 55.1M1443.7 121.6l79.1 79.1M1467.7 121.6l79.1 79.1M1491.7 121.6l79.1 79.1M1515.7 121.6l79.1 79.1M1539.7 121.6l66.8 66.8M1563.7 121.6l42.8 42.8M1587.7 121.6l18.8 18.8" fill="none" stroke-width="2.0"/>
</g>
<text class="leg" x="1625.5" y="187">500mm/s</text>
<g fill="#FEE08B" stroke="#FF0000">
<rect x="1443.7" y="213.6" width="162.8" height="76.7" stroke-width="4.6"/>
<path d="M1443.7 285.6l4.7 4.7M1443.7 261.6l28.7 28.7M1443.7 237.6l52.7 52.7M1443.7 213.6l76.7 76.7M1467.7 213.6l76.7 76.7M1491.7 213.6l76.7 76.7M1515.7 213.6l76.7 76.7M1539.7 213.6l66.8 66.8M1563.7 213.6l42.8 42.8M1587.7 213.6l18.8 18.8" fill="none" stroke-width="2.0"/>
</g>
<text class="leg" x="1625.5" y="276.6">1000mm/s</text>
<g fill="#D9EF8B" stroke="#00FF00">
<rect x="1443.7" y="303.9" width="162.8" height="78.4" stroke-width="4.6"/>
<path d="M1443.7 375.9l6.4 6.4M1443.7 351.9l30.4 30.4M1443.7 327.9l54.4 54.4M1443.7 303.9l78.4 78.4M1467.7 303.9l78.4 78.4M1491.7 303.9l78.4 78.4M1515.7 303.9l78.4 78.4M1539.7 303.9l66.8 66.8M1563.7 303.9l42.8 42.8M1587.7 303.9l18.8 18.8" fill="none" stroke-width="2.0"/>
</g>
<text class="leg" x="1625.5" y="368.2">1500mm/s</text>
<g fill="#66BD63" stroke="#0000FF">
<rect x="1443.7" y="395.3" width="162.8" height="78.9" stroke-width="4.6"/>
<path d="M1443.7 467.3l6.9 6.9M1443.7 443.3l30.9 30.9M1443.7 419.3l54.9 54.9M1443.7 395.3l78.9 78.9M1467.7 395.3l78.9 78.9M1491.7 395.3l78.9 78.9M1515.7 395.3l78.9 78.9M1539.7 395.3l66.8 66.8M1563.7 395.3l42.8 42.8M1587.7 395.3l18.8 18.8" fill="none" stroke-width="2.0"/>
</g>
<text class="leg" x="1625.5" y="458.5">2000mm/s</text>
</svg>
</body>
</html>
